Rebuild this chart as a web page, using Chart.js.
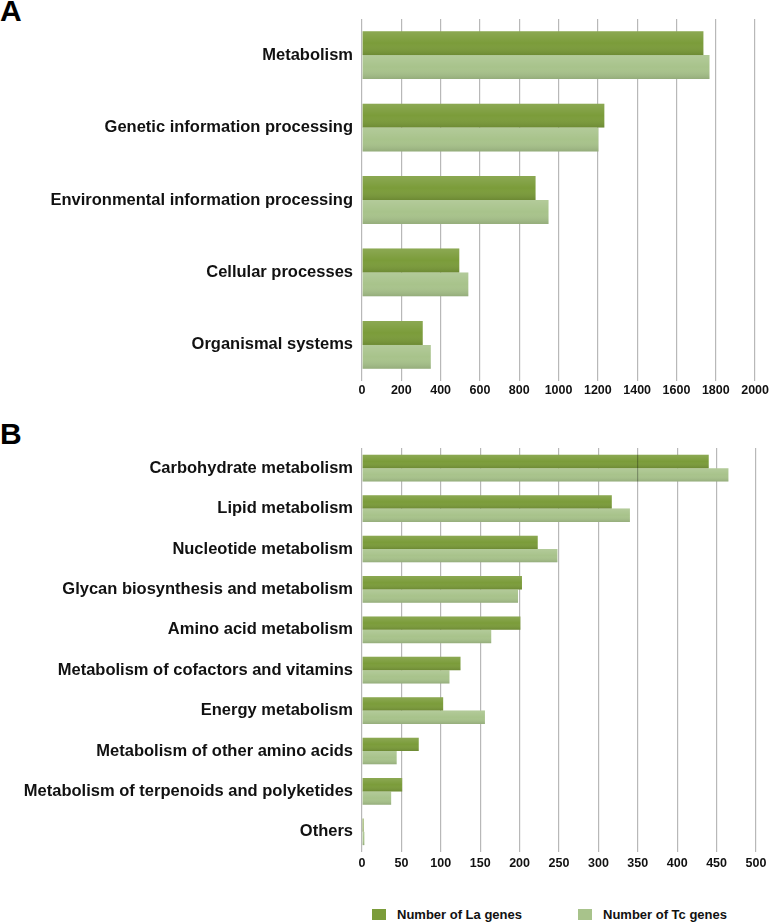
<!DOCTYPE html>
<html>
<head>
<meta charset="utf-8">
<script src="https://cdn.jsdelivr.net/npm/chart.js@4.4.1/dist/chart.umd.min.js"></script>
<style>
  html, body { margin: 0; padding: 0; background: #fff; width: 771px; height: 922px; overflow: hidden; }
  body { position: relative; font-family: "Liberation Sans", Arial, sans-serif; }
  .panel { position: absolute; font-weight: bold; font-size: 30px; line-height: 30px; color: #000; }
  .wrap { position: absolute; left: 0; width: 771px; }
  .legend { position: absolute; top: 907px; font-size: 13px; font-weight: bold; color: #111; line-height: 15px; }
  .legend span.box { display: inline-block; width: 14px; height: 11px; vertical-align: -1px; margin-right: 11px; }
</style>
</head>
<body>
<div class="panel" style="left:0px; top:-4px;">A</div>
<div class="panel" style="left:0px; top:419px;">B</div>
<div class="wrap" style="top:0px; height:400px;"><canvas id="cA" width="771" height="400"></canvas></div>
<div class="wrap" style="top:400px; height:475px;"><canvas id="cB" width="771" height="475"></canvas></div>
<div class="legend" style="left:372px;"><span class="box" style="background:#7b9c3a"></span>Number of La genes</div>
<div class="legend" style="left:578px;"><span class="box" style="background:#a8c38b"></span>Number of Tc genes</div>
<script>
// ---- Data ----
const seriesNames = ["Number of La genes", "Number of Tc genes"];

const categoriesA = ["Metabolism", "Genetic information processing", "Environmental information processing", "Cellular processes", "Organismal systems"];
const laGenesA = [1737, 1233, 883, 495, 309];
const tcGenesA = [1768, 1203, 949, 541, 350];
const ticksA = [0, 200, 400, 600, 800, 1000, 1200, 1400, 1600, 1800, 2000];

const categoriesB = ["Carbohydrate metabolism", "Lipid metabolism", "Nucleotide metabolism", "Glycan biosynthesis and metabolism", "Amino acid metabolism", "Metabolism of cofactors and vitamins", "Energy metabolism", "Metabolism of other amino acids", "Metabolism of terpenoids and polyketides", "Others"];
const laGenesB = [440, 317, 223, 203, 201, 125, 103, 72, 51, 2];
const tcGenesB = [465, 340, 248, 198, 164, 111, 156, 44, 37, 3];
const ticksB = [0, 50, 100, 150, 200, 250, 300, 350, 400, 450, 500];

// ---- Styles ----
const colLa = "#7b9c3a";
const colTc = "#a8c38b";
const gridCol = "#b8b8b8";
const fontFam = "'Liberation Sans', Arial, Helvetica, sans-serif";

// overlay a soft vertical gradient on each bar using the library's element geometry
const barShade = {
  id: "barShade",
  afterDatasetsDraw(chart) {
    const ctx = chart.ctx;
    chart.data.datasets.forEach((ds, i) => {
      const meta = chart.getDatasetMeta(i);
      meta.data.forEach(el => {
        const p = el.getProps(["x", "y", "base", "height"], true);
        const top = p.y - p.height / 2, bot = p.y + p.height / 2;
        const left = Math.min(p.base, p.x), w = Math.abs(p.x - p.base);
        if (w <= 0) return;
        const g = ctx.createLinearGradient(0, top, 0, bot);
        g.addColorStop(0, "rgba(255,255,255,0.13)");
        g.addColorStop(0.5, "rgba(255,255,255,0.0)");
        g.addColorStop(1, "rgba(0,0,0,0.12)");
        ctx.save();
        ctx.fillStyle = g;
        ctx.fillRect(left, top, w, bot - top);
        ctx.restore();
      });
    });
  }
};

function makeChart(id, cats, la, tc, tickVals, maxV, padTop, xAxisH, tickPad, overLine) {
  const scales = {
    x: {
      type: "linear", min: 0, max: maxV,
      afterBuildTicks(axis) { axis.ticks = tickVals.map(v => ({ value: v })); },
      grid: { color: c => (c.tick && c.tick.value === overLine) ? "rgba(0,0,0,0)" : gridCol,
              lineWidth: 1.2, drawTicks: false },
      border: { display: false },
      ticks: { padding: tickPad, color: "#111", font: { family: fontFam, size: 12.5, weight: "bold" },
               callback: v => String(v) },
      afterFit(axis) { axis.height = xAxisH; }
    },
    y: {
      type: "category",
      grid: { display: false, drawTicks: false },
      border: { display: false },
      ticks: { padding: 9, color: "#111", font: { family: fontFam, size: 16.5, weight: "bold" } },
      afterFit(axis) { axis.width = 362; }
    }
  };
  if (overLine !== null) {
    scales.x2 = {
      type: "linear", min: 0, max: maxV, position: "bottom", axis: "x",
      afterBuildTicks(axis) { axis.ticks = [{ value: overLine }]; },
      grid: { color: "rgba(0,0,0,0.28)", lineWidth: 1.2, drawTicks: false, z: 1 },
      border: { display: false },
      ticks: { display: false },
      afterFit(axis) { axis.height = 0; }
    };
  }
  return new Chart(document.getElementById(id), {
    type: "bar",
    data: {
      labels: cats,
      datasets: [
        { label: seriesNames[0], data: la, backgroundColor: colLa, xAxisID: "x", categoryPercentage: 0.66, barPercentage: 1.0 },
        { label: seriesNames[1], data: tc, backgroundColor: colTc, xAxisID: "x", categoryPercentage: 0.66, barPercentage: 1.0 }
      ]
    },
    options: {
      indexAxis: "y",
      responsive: false,
      animation: false,
      layout: { padding: { top: padTop, right: 15, left: 0, bottom: 0 } },
      plugins: { legend: { display: false }, tooltip: { enabled: false } },
      scales: scales
    },
    plugins: [barShade]
  });
}

makeChart("cA", categoriesA, laGenesA, tcGenesA, ticksA, 2000, 12, 17, 2, null);
makeChart("cB", categoriesB, laGenesB, tcGenesB, ticksB, 500, 48, 23, 4, 350);
</script>
</body>
</html>
